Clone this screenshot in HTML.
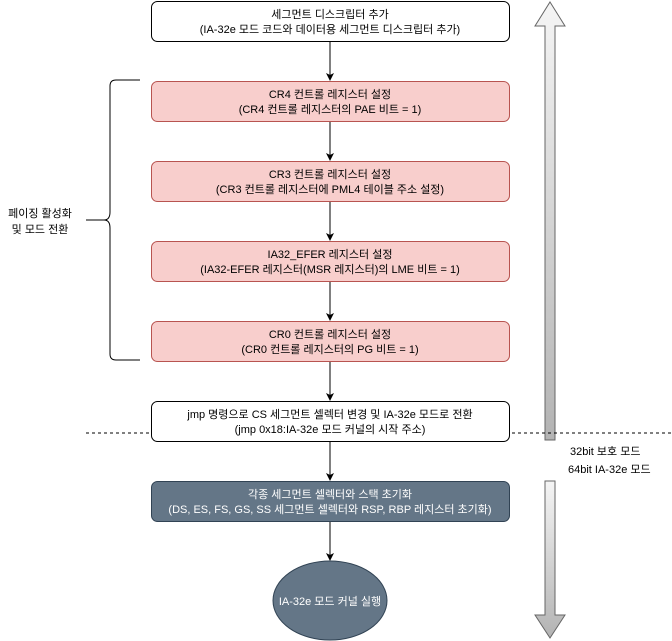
<!DOCTYPE html>
<html><head><meta charset="utf-8"><style>
html,body{margin:0;padding:0;background:#fff;width:672px;height:641px;overflow:hidden}
svg text{font-family:"Liberation Sans","Noto Sans CJK KR",sans-serif;font-size:11px}
</style></head><body>
<svg width="672" height="641" viewBox="0 0 672 641" xmlns="http://www.w3.org/2000/svg">
<defs>
<linearGradient id="gu" x1="0" y1="0" x2="0" y2="1"><stop offset="0" stop-color="#f5f5f5"/><stop offset="1" stop-color="#b3b3b3"/></linearGradient>
<linearGradient id="gd" x1="0" y1="0" x2="0" y2="1"><stop offset="0" stop-color="#f5f5f5"/><stop offset="1" stop-color="#b3b3b3"/></linearGradient>
<marker id="ar" markerWidth="8" markerHeight="8" refX="7" refY="4" orient="auto" markerUnits="userSpaceOnUse"><path d="M0,0 L8,4 L0,8 L2,4 Z" fill="#000"/></marker>
</defs>
<!-- side arrows -->
<path d="M550,2 L565,26 L555,26 L555,440 L545,440 L545,26 L535,26 Z" fill="url(#gu)" stroke="#666" stroke-width="1"/>
<path d="M545,481 L555,481 L555,615 L565,615 L550,638 L535,615 L545,615 Z" fill="url(#gd)" stroke="#666" stroke-width="1"/>
<line x1="86" y1="433" x2="672" y2="433" stroke="#000" stroke-dasharray="3,3"/>
<text x="570" y="455">32bit 보호 모드</text>
<text x="568" y="473">64bit IA-32e 모드</text>
<!-- bracket -->
<path d="M140,80 L116,80 Q110,80 110,86 L110,212 Q110,220 104,220 L86,220 M104,220 Q110,220 110,228 L110,354 Q110,360 116,360 L140,360" fill="none" stroke="#000"/>
<text x="40" y="217" text-anchor="middle">페이징 활성화</text>
<text x="40" y="233" text-anchor="middle">및 모드 전환</text>
<!-- connectors -->
<g stroke="#000" fill="none" marker-end="url(#ar)">
<line x1="330" y1="41" x2="330" y2="80"/>
<line x1="330" y1="121" x2="330" y2="160"/>
<line x1="330" y1="201" x2="330" y2="240"/>
<line x1="330" y1="281" x2="330" y2="320"/>
<line x1="330" y1="361" x2="330" y2="400"/>
<line x1="330" y1="441" x2="330" y2="480"/>
<line x1="330" y1="521" x2="330" y2="560"/>
</g>
<!-- boxes -->
<rect x="151.5" y="1.5" width="358" height="40" rx="6" fill="#fff" stroke="#000"/>
<text x="330" y="18" text-anchor="middle">세그먼트 디스크립터 추가</text>
<text x="330" y="33" text-anchor="middle">(IA-32e 모드 코드와 데이터용 세그먼트 디스크립터 추가)</text>
<g fill="#f8cecc" stroke="#b85450">
<rect x="151.5" y="81.5" width="358" height="40" rx="6"/>
<rect x="151.5" y="161.5" width="358" height="40" rx="6"/>
<rect x="151.5" y="241.5" width="358" height="40" rx="6"/>
<rect x="151.5" y="321.5" width="358" height="40" rx="6"/>
</g>
<text x="330" y="98" text-anchor="middle">CR4 컨트롤 레지스터 설정</text>
<text x="330" y="113" text-anchor="middle">(CR4 컨트롤 레지스터의 PAE 비트 = 1)</text>
<text x="330" y="178" text-anchor="middle">CR3 컨트롤 레지스터 설정</text>
<text x="330" y="193" text-anchor="middle">(CR3 컨트롤 레지스터에 PML4 테이블 주소 설정)</text>
<text x="330" y="258" text-anchor="middle">IA32_EFER 레지스터 설정</text>
<text x="330" y="273" text-anchor="middle">(IA32-EFER 레지스터(MSR 레지스터)의 LME 비트 = 1)</text>
<text x="330" y="338" text-anchor="middle">CR0 컨트롤 레지스터 설정</text>
<text x="330" y="353" text-anchor="middle">(CR0 컨트롤 레지스터의 PG 비트 = 1)</text>
<rect x="151.5" y="401.5" width="358" height="40" rx="6" fill="#fff" stroke="#000"/>
<text x="330" y="418" text-anchor="middle">jmp 명령으로 CS 세그먼트 셀렉터 변경 및 IA-32e 모드로 전환</text>
<text x="330" y="433" text-anchor="middle">(jmp 0x18:IA-32e 모드 커널의 시작 주소)</text>
<rect x="151.5" y="481.5" width="358" height="40" rx="6" fill="#647687" stroke="#314354"/>
<text x="330" y="498" text-anchor="middle" fill="#fff">각종 세그먼트 셀렉터와 스택 초기화</text>
<text x="330" y="513" text-anchor="middle" fill="#fff">(DS, ES, FS, GS, SS 세그먼트 셀렉터와 RSP, RBP 레지스터 초기화)</text>
<ellipse cx="330" cy="600.5" rx="57" ry="39.5" fill="#647687" stroke="#314354"/>
<text x="330" y="605" text-anchor="middle" fill="#fff">IA-32e 모드 커널 실행</text>
</svg>
</body></html>
